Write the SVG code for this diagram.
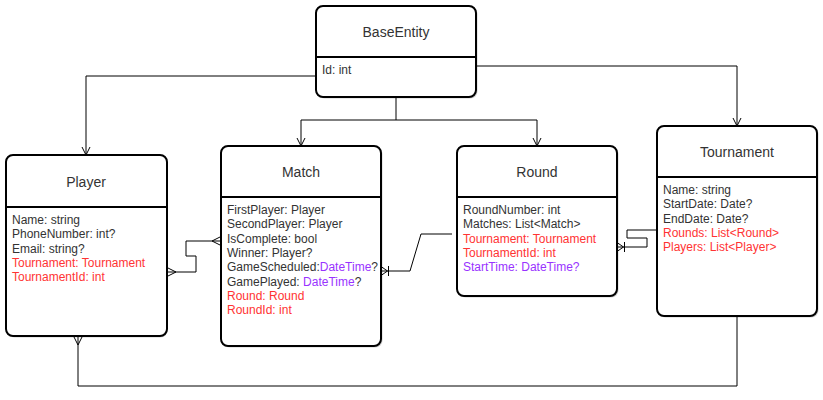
<svg xmlns="http://www.w3.org/2000/svg" width="823" height="400" viewBox="0 0 823 400">
<style>
.box{fill:#fff;stroke:#000;stroke-width:2}
.shadow{fill:#000;opacity:0.18}
.div{stroke:#000;stroke-width:2}
.title{font-family:"Liberation Sans",Arial,sans-serif;font-size:14px;fill:#333;text-anchor:middle}
.attr{font-family:"Liberation Sans",Arial,sans-serif;font-size:12px;fill:#333}
.red{fill:#FF3333}
.pur{fill:#9933FF}
.conn{fill:none;stroke:#000;stroke-width:1}
.mk{fill:none;stroke:#000;stroke-width:1}
</style>
<defs>
<marker id="open" markerUnits="userSpaceOnUse" viewBox="-10 -6 12 12" refX="0" refY="0" markerWidth="12" markerHeight="12" orient="auto" overflow="visible">
<path class="mk" d="M-8,-4 L0,0 L-8,4"/>
</marker>
<marker id="many" markerUnits="userSpaceOnUse" viewBox="-10 -6 12 12" refX="0" refY="0" markerWidth="12" markerHeight="12" orient="auto-start-reverse" overflow="visible">
<path class="mk" d="M0,-4.5 L-9,0 L0,4.5"/>
</marker>
<marker id="onemany" markerUnits="userSpaceOnUse" viewBox="-10 -6 12 12" refX="0" refY="0" markerWidth="12" markerHeight="12" orient="auto-start-reverse" overflow="visible">
<path class="mk" d="M0,-4.5 L-6.5,0 L0,4.5 M-7.5,-5 L-7.5,5"/>
</marker>
</defs>

<g id="connectors">
<path class="conn" d="M316,76 H86 V155" marker-end="url(#open)"/>
<path class="conn" d="M396,97 V120 H301 V146" marker-end="url(#open)"/>
<path class="conn" d="M396,120 H537 V146" marker-end="url(#open)"/>
<path class="conn" d="M476,66 H737 V126" marker-end="url(#open)"/>
<path class="conn" d="M167,272 H196 V256 H186 V241 H221" marker-start="url(#many)" marker-end="url(#many)"/>
<path class="conn" d="M381,271 H410 L421,234 H452" marker-start="url(#onemany)"/>
<path class="conn" d="M617,247 H647 V238 H627 V230 H657" marker-start="url(#onemany)"/>
<path class="conn" d="M78,336 V386 H737 V316" marker-start="url(#many)"/>
</g>

<g id="BaseEntity">
<rect class="shadow" x="317.5" y="7.5" width="160" height="91" rx="7"/>
<rect class="box" x="316" y="6" width="160" height="91" rx="7"/>
<line class="div" x1="316" y1="57" x2="476" y2="57"/>
<text class="title" x="396" y="37">BaseEntity</text>
<text class="attr" x="322" y="74">Id: int</text>
</g>

<g id="Player">
<rect class="shadow" x="7.5" y="156.5" width="160" height="181" rx="7"/>
<rect class="box" x="6" y="155" width="161" height="181" rx="7"/>
<line class="div" x1="6" y1="207" x2="167" y2="207"/>
<text class="title" x="86" y="187">Player</text>
<text class="attr" x="12" y="224">Name: string</text>
<text class="attr" x="12" y="238.3">PhoneNumber: int?</text>
<text class="attr" x="12" y="252.6">Email: string?</text>
<text class="attr red" x="12" y="266.9">Tournament: Tournament</text>
<text class="attr red" x="12" y="281.2">TournamentId: int</text>
</g>

<g id="Match">
<rect class="shadow" x="222.5" y="147.5" width="160" height="200" rx="7"/>
<rect class="box" x="221" y="146" width="160" height="200" rx="7"/>
<line class="div" x1="221" y1="197" x2="381" y2="197"/>
<text class="title" x="301" y="177">Match</text>
<text class="attr" x="227" y="214">FirstPlayer: Player</text>
<text class="attr" x="227" y="228.3">SecondPlayer: Player</text>
<text class="attr" x="227" y="242.6">IsComplete: bool</text>
<text class="attr" x="227" y="256.9">Winner: Player?</text>
<text class="attr" x="227" y="271.2">GameScheduled:<tspan class="pur">DateTime</tspan>?</text>
<text class="attr" x="227" y="285.5">GamePlayed: <tspan class="pur">DateTime</tspan>?</text>
<text class="attr red" x="227" y="299.8">Round: Round</text>
<text class="attr red" x="227" y="314.1">RoundId: int</text>
</g>

<g id="Round">
<rect class="shadow" x="458.5" y="147.5" width="160" height="150" rx="7"/>
<rect class="box" x="457" y="146" width="160" height="150" rx="7"/>
<line class="div" x1="457" y1="197" x2="617" y2="197"/>
<text class="title" x="537" y="177">Round</text>
<text class="attr" x="463" y="214">RoundNumber: int</text>
<text class="attr" x="463" y="228.3">Matches: List&lt;Match&gt;</text>
<text class="attr red" x="463" y="242.6">Tournament: Tournament</text>
<text class="attr red" x="463" y="256.9">TournamentId: int</text>
<text class="attr pur" x="463" y="271.2">StartTime: DateTime?</text>
</g>

<g id="Tournament">
<rect class="shadow" x="658.5" y="127.5" width="160" height="190" rx="7"/>
<rect class="box" x="657" y="126" width="160" height="190" rx="7"/>
<line class="div" x1="657" y1="177" x2="817" y2="177"/>
<text class="title" x="737" y="157">Tournament</text>
<text class="attr" x="663" y="194">Name: string</text>
<text class="attr" x="663" y="208.3">StartDate: Date?</text>
<text class="attr" x="663" y="222.6">EndDate: Date?</text>
<text class="attr red" x="663" y="236.9">Rounds: List&lt;Round&gt;</text>
<text class="attr red" x="663" y="251.2">Players: List&lt;Player&gt;</text>
</g>
</svg>
